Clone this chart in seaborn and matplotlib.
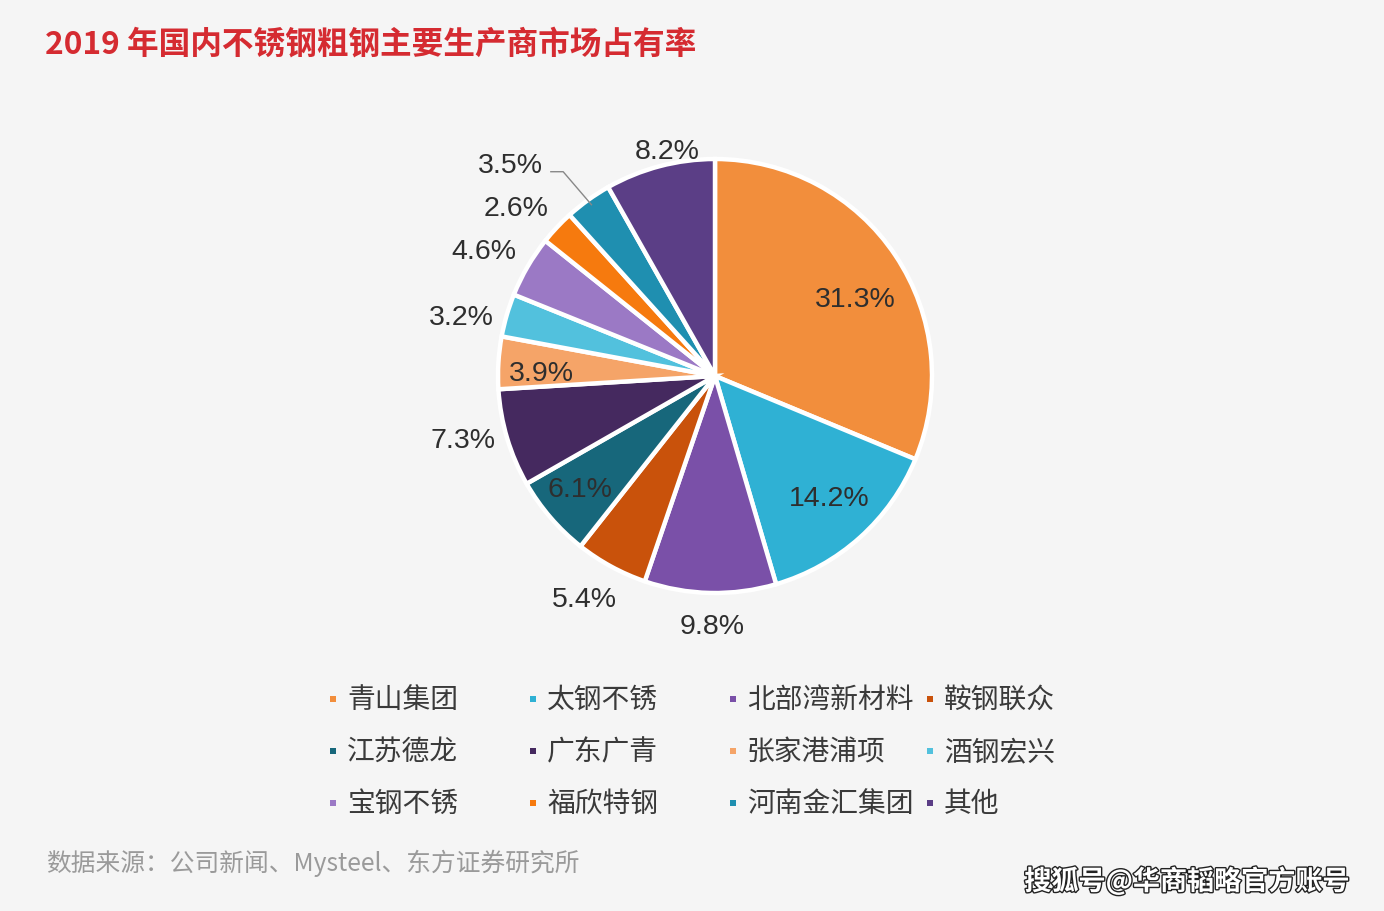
import numpy as np
import matplotlib
matplotlib.use("Agg")
import matplotlib.pyplot as plt
import matplotlib.patheffects as pe
from matplotlib.patches import Rectangle
import seaborn as sns

# ---- data ----
companies = ["青山集团", "太钢不锈", "北部湾新材料", "鞍钢联众",
             "江苏德龙", "广东广青", "张家港浦项", "酒钢宏兴",
             "宝钢不锈", "福欣特钢", "河南金汇集团", "其他"]
shares = [31.3, 14.2, 9.8, 5.4, 6.1, 7.3, 3.9, 3.2, 4.6, 2.6, 3.5, 8.2]
share_labels = ["31.3%", "14.2%", "9.8%", "5.4%", "6.1%", "7.3%",
                "3.9%", "3.2%", "4.6%", "2.6%", "3.5%", "8.2%"]
colors = ["#F28E3C", "#2FB1D4", "#7A50A8", "#C9520B", "#17677B", "#45295F",
          "#F5A468", "#52C1DD", "#9B79C5", "#F67A0E", "#1F8FB0", "#5B3E86"]

title = "2019 年国内不锈钢粗钢主要生产商市场占有率"
source = "数据来源：公司新闻、Mysteel、东方证券研究所"
watermark = "搜狐号@华商韬略官方账号"

# ---- style ----
sns.set_theme(style="white")
plt.rcParams['font.family'] = ['Noto Sans CJK SC', 'DejaVu Sans']
BG = "#F5F5F5"

W, H = 1384, 912
fig = plt.figure(figsize=(W / 100, H / 100), dpi=100, facecolor=BG)

# pie axes: centre (715, 377) px, radius 217 px
cx, cy, R = 715, 377, 217
half = 260
ax = fig.add_axes([(cx - half) / W, (H - cy - half) / H, 2 * half / W, 2 * half / H])
ax.set_facecolor(BG)

wedges, _ = ax.pie(shares, colors=colors, startangle=90, counterclock=False,
                   radius=1.0,
                   wedgeprops=dict(edgecolor="white", linewidth=3.2))
L = half / R
ax.set_xlim(-L, L)
ax.set_ylim(-L, L)
ax.set_aspect("equal")
ax.axis("off")

# label placement (radius factor, angle tweak in degrees)
lab_r = [0.74, 0.77, 1.15, 1.19, 0.81, 1.20, 0.80, 1.20, 1.21, 1.20, 1.355, 1.06]
lab_d = [-4.9, 1.4, 0.6, -1.8, -0.9, -2.3, 2.4, 3.1, 1.9, 3.2, 8.4, -2.8]
for w, txt, rf, d in zip(wedges, share_labels, lab_r, lab_d):
    mid = np.deg2rad((w.theta1 + w.theta2) / 2 + d)
    ax.text(rf * np.cos(mid), rf * np.sin(mid), txt, ha="center", va="center",
            fontsize=20.5, color="#2E2E2E", family=["Liberation Sans", "DejaVu Sans"])

# leader line for 河南金汇集团 (3.5%)
w = wedges[10]
m = np.deg2rad((w.theta1 + w.theta2) / 2)
ex, ey = 0.97 * np.cos(m), 0.97 * np.sin(m)
lx = np.cos(np.deg2rad(134.2)) * 1.355
ly = np.sin(np.deg2rad(134.2)) * 1.355
ax.plot([lx + 0.185, lx + 0.245, ex], [ly - 0.03, ly - 0.03, ey],
        color="#888888", lw=1.0, solid_capstyle="butt")

# title
fig.text(45 / W, 1 - 45 / H, title, ha="left", va="center", fontsize=22.8,
         fontweight="bold", color="#D52B31")

# legend (3 rows x 4 columns)
col_x = [333, 533, 733, 930]
row_y = [700, 752, 804]
for i, (name, c) in enumerate(zip(companies, colors)):
    r, k = divmod(i, 4)
    mx, my = col_x[k], row_y[r]
    fig.patches.append(Rectangle(((mx - 3) / W, 1 - (my + 3) / H), 6 / W, 6 / H,
                                 transform=fig.transFigure, facecolor=c,
                                 edgecolor="none"))
    fig.text((mx + 14) / W, 1 - my / H, name, ha="left", va="center",
             fontsize=20, color="#3A3A3A")

# source
fig.text(46 / W, 1 - 863 / H, source, ha="left", va="center", fontsize=17.8,
         color="#9A9A9A")

# watermark
fig.text(1350 / W, 1 - 882 / H, watermark, ha="right", va="center", fontsize=19.5,
         fontweight="bold", color="white",
         path_effects=[pe.withStroke(linewidth=2.0, foreground="#222222")])

fig.savefig("out.png", dpi=100, facecolor=BG)
